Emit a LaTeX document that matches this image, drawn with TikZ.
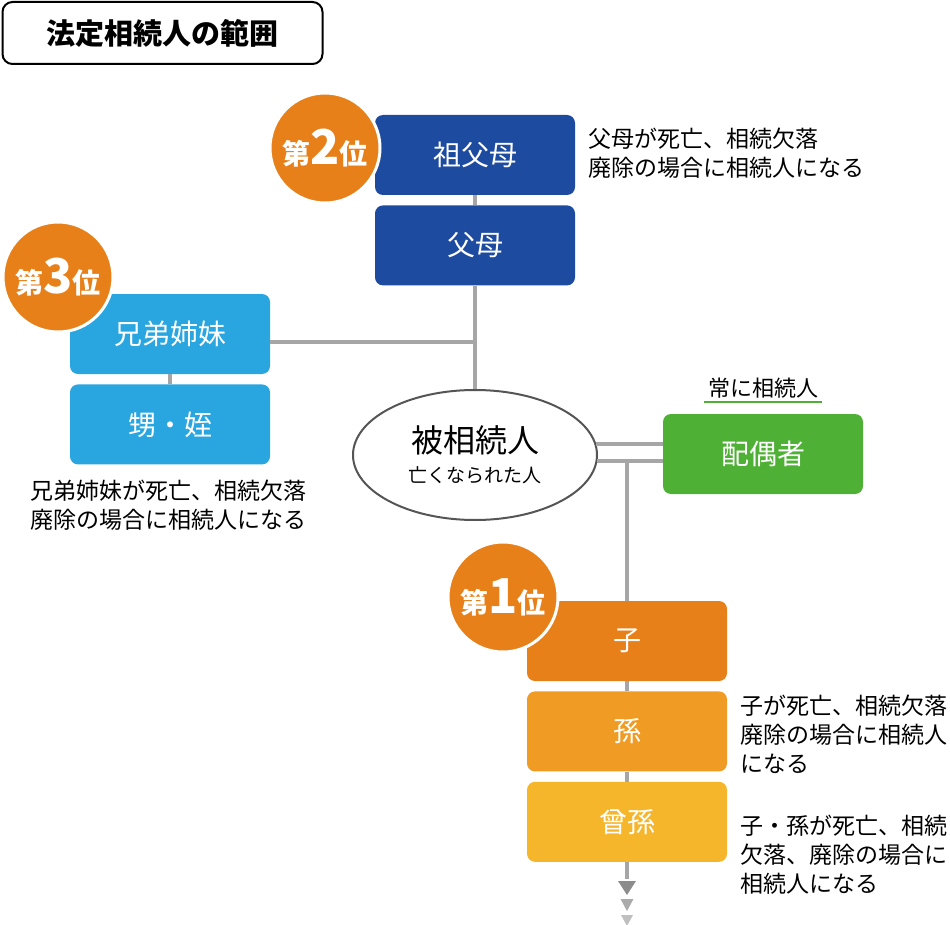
\documentclass[tikz,border=0pt]{standalone}
\usepackage{fontspec}
\setmainfont{Noto Sans CJK JP}
\usetikzlibrary{positioning,shapes.geometric}
\definecolor{navy}{HTML}{1D4B9F}
\definecolor{skyblue}{HTML}{29A6E0}
\definecolor{leafgreen}{HTML}{4EB135}
\definecolor{rankorange}{HTML}{E8801A}
\definecolor{childorange}{HTML}{E8801A}
\definecolor{gchildorange}{HTML}{F09B23}
\definecolor{ggchildyellow}{HTML}{F6B62C}
\definecolor{linegrey}{HTML}{A6A6A6}
\definecolor{heirgrey}{HTML}{555555}

\begin{document}
\begin{tikzpicture}[x=1pt, y=-1pt,
    box/.style={rounded corners=8pt, minimum width=200pt, minimum height=80pt, inner sep=0pt, text=white, font=\fontsize{28}{28}\selectfont},
    rank/.style={circle, fill=rankorange, draw=white, line width=3pt, minimum size=110pt, inner sep=0pt, text=white, font=\fontsize{28}{28}\selectfont\bfseries},
    note/.style={anchor=north west, inner sep=0pt, align=left, font=\fontsize{23}{29}\selectfont},
    link/.style={line width=4pt, draw=linegrey}]
    \useasboundingbox (0, 0) rectangle (950, 925);
    % TITLE
    \node[draw, line width=2pt, rounded corners=10pt, minimum width=320pt, minimum height=62pt, inner sep=0pt, font=\fontsize{29}{29}\selectfont\bfseries] (title) at (162.5, 33) {法定相続人の範囲};
    % SECOND RANK
    \node[box, fill=navy] (gp) at (475, 155) {祖父母};
    \node[box, fill=navy, below=10pt of gp] (p) {父母};
    \node[rank] (rank2) at (325, 148) {第{\fontsize{48}{48}\selectfont 2}位};
    \node[note] (pnote) at (588, 128) {父母が死亡、相続欠落\\廃除の場合に相続人になる};
    % THIRD RANK
    \node[box, fill=skyblue] (sib) at (170, 334) {兄弟姉妹};
    \node[box, fill=skyblue, below=10pt of sib] (neph) {甥・姪};
    \node[rank] (rank3) at (58, 277) {第{\fontsize{48}{48}\selectfont 3}位};
    \node[note] (sibnote) at (30, 480) {兄弟姉妹が死亡、相続欠落\\廃除の場合に相続人になる};
    % DECEASED AND SPOUSE
    \node[ellipse, draw=heirgrey, line width=2pt, fill=white, minimum width=244pt, minimum height=130pt, inner sep=0pt, align=center, font=\fontsize{19}{30}\selectfont] (heir) at (475, 455) {{\fontsize{32}{32}\selectfont 被相続人}\\亡くなられた人};
    \node[box, fill=leafgreen] (spouse) at (763, 454) {配偶者};
    \node[inner sep=0pt, font=\fontsize{22}{22}\selectfont] (always) at (763, 388) {常に相続人};
    \draw[leafgreen, line width=2pt] ([xshift=-4pt, yshift=-4pt]always.south west) -- ([xshift=4pt, yshift=-4pt]always.south east);
    % FIRST RANK
    \node[box, fill=childorange] (child) at (627, 641) {子};
    \node[box, fill=gchildorange, below=10pt of child] (gchild) {孫};
    \node[box, fill=ggchildyellow, below=10pt of gchild] (ggchild) {曾孫};
    \node[rank] (rank1) at (503, 597) {第{\fontsize{48}{48}\selectfont 1}位};
    \node[note] (childnote) at (740, 695) {子が死亡、相続欠落\\廃除の場合に相続人\\になる};
    \node[note] (gchildnote) at (740, 815) {子・孫が死亡、相続\\欠落、廃除の場合に\\相続人になる};
    % CONNECTORS
    \coordinate (jn) at (475, 342);
    \coordinate (tail) at (627, 879);
    \draw[link] (gp) -- (p);
    \draw[link] (p.south) -- (heir.north);
    \draw[link] (sib) -- (neph);
    \draw[link] (sib.east |- jn) -- (jn);
    \draw[link] (heir.5) -- (heir.5 -| spouse.west);
    \draw[link] (heir.-3) -- (heir.-3 -| spouse.west);
    \draw[link] (heir.-3 -| child.north) -- (child.north);
    \draw[link] (child) -- (gchild);
    \draw[link] (gchild) -- (ggchild);
    \draw[link] (ggchild.south) -- (tail);
    % FADING ARROWS
    \foreach \y/\w/\h/\c in {881/9/14/black!45, 899/6.5/12/black!33, 915/6/11/black!25}
        \fill[\c] (627-\w, \y) -- (627+\w, \y) -- (627, \y+\h) -- cycle;
\end{tikzpicture}
\end{document}
